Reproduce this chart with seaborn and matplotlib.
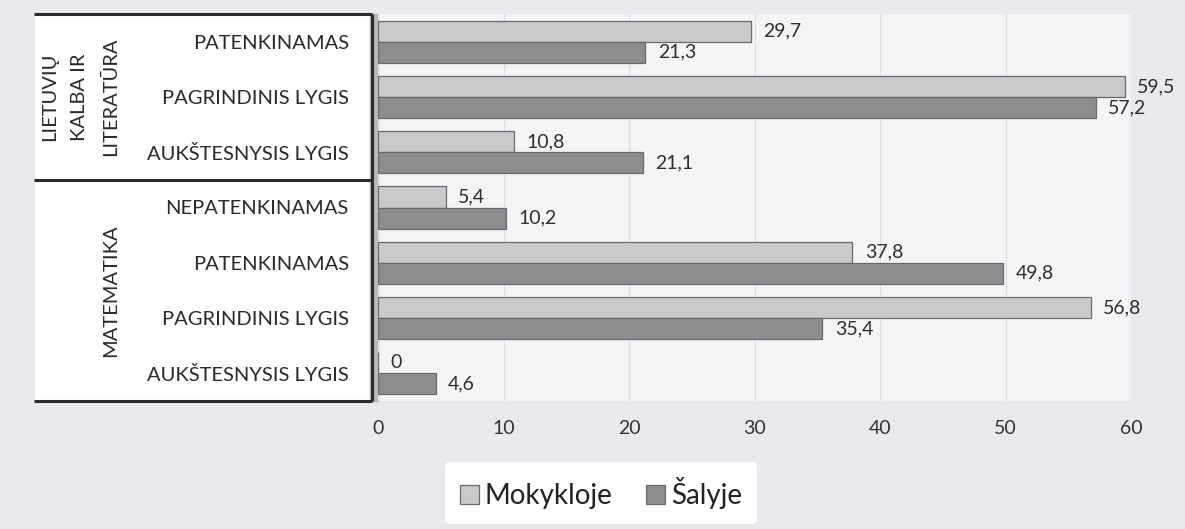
import numpy as np
import pandas as pd
import matplotlib
matplotlib.use("Agg")
import matplotlib.pyplot as plt
import matplotlib.transforms as mtransforms
import seaborn as sns

# kategorijos (nuo viršaus)
levels = ["PATENKINAMAS", "PAGRINDINIS LYGIS", "AUKŠTESNYSIS LYGIS",
          "NEPATENKINAMAS", "PATENKINAMAS ", "PAGRINDINIS LYGIS ",
          "AUKŠTESNYSIS LYGIS "]
subjects = ["LIETUVIŲ\nKALBA IR\nLITERATŪRA", "MATEMATIKA"]
subject_rows = [(0, 2), (3, 6)]
mokykloje = [29.7, 59.5, 10.8, 5.4, 37.8, 56.8, 0]
salyje = [21.3, 57.2, 21.1, 10.2, 49.8, 35.4, 4.6]
series = ["Mokykloje", "Šalyje"]
colors = ["#c8c8cc", "#8c8c91"]
xticks = [0, 10, 20, 30, 40, 50, 60]

df = pd.DataFrame({
    "lygis": levels * 2,
    "reiksme": mokykloje + salyje,
    "kur": [series[0]] * len(levels) + [series[1]] * len(levels),
})

sns.set_theme(style="white")
plt.rcParams["font.family"] = ["Lato", "DejaVu Sans"]

W, H = 1185, 529
fig = plt.figure(figsize=(W / 100, H / 100), dpi=100)
fig.patch.set_facecolor("#e9e9ed")

# white label panel on the left
fig.patches.append(plt.Rectangle((35 / W, 1 - 400 / H), (372 - 35) / W, (400 - 13) / H,
                                 transform=fig.transFigure, facecolor="white",
                                 edgecolor="none", zorder=-1))

ax = fig.add_axes([378 / W, 1 - 401 / H, (1131 - 378) / W, (401 - 14) / H])
ax.set_facecolor("#f4f4f7")

sns.barplot(data=df, y="lygis", x="reiksme", hue="kur", orient="h",
            palette=colors, hue_order=series, width=0.76, ax=ax,
            edgecolor="#6a6a6e", linewidth=0.9, legend=True)

for cont in ax.containers:
    ax.bar_label(cont, fmt=lambda v: f"{v:g}".replace(".", ","), padding=9,
                 fontsize=14, color="#2e2e2e")

ax.set_xlim(0, 60)
ax.set_ylim(6.5, -0.5)
ax.set_xticks(xticks)
ax.set_xlabel("")
ax.set_ylabel("")
ax.xaxis.grid(True, color="#dcdce2", linewidth=0.8)
ax.set_axisbelow(True)
for s in ax.spines.values():
    s.set_visible(False)
ax.tick_params(axis="x", length=0, pad=14, labelsize=14, labelcolor="#333333")
ax.tick_params(axis="y", length=0, pad=21, labelsize=14.5, labelcolor="#2a2a2a")
ax.set_yticks(range(len(levels)))
ax.set_yticklabels([lv.strip() for lv in levels])

# 3D wall strip
ax.axvspan(-0.6, 0, color="#b9b9bd", clip_on=False, zorder=0)

# group lines and labels
tr = mtransforms.blended_transform_factory(fig.transFigure, ax.transData)
line_kw = dict(color="#2b2b2b", linewidth=2.2, transform=tr, clip_on=False,
               solid_capstyle="butt")
for yy in [-0.5, 2.5, 6.5]:
    ax.plot([34 / W, 372 / W], [yy, yy], **line_kw)
ax.plot([372 / W, 372 / W], [-0.5, 6.5], **line_kw)

group_x = [80 / W, 111 / W]
for name, (r0, r1), gx in zip(subjects, subject_rows, group_x):
    ax.text(gx, (r0 + r1) / 2, name, transform=tr, rotation=90, ha="center",
            va="center", fontsize=14.5, color="#2a2a2a", linespacing=1.95,
            multialignment="center")

leg = ax.legend(loc="center", bbox_to_anchor=(601 / W, 1 - 493 / H),
                bbox_transform=fig.transFigure, ncol=2, frameon=True,
                fontsize=20, handlelength=0.7, handleheight=0.7,
                handletextpad=0.2, columnspacing=1.2, borderpad=0.55,
                borderaxespad=0)
leg.get_frame().set_facecolor("white")
leg.get_frame().set_edgecolor("none")
leg.get_frame().set_alpha(1)
for t in leg.get_texts():
    t.set_color("#222222")

fig.savefig("out.png", dpi=100, facecolor=fig.get_facecolor())
